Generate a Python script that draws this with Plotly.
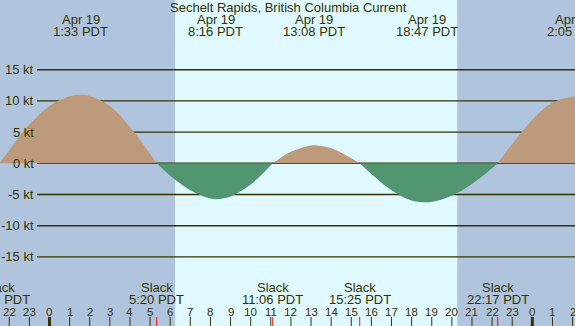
import plotly.graph_objects as go

# ---- data ----
title = "Sechelt Rapids, British Columbia Current"

# current speed samples (hours from Apr 19 00:00, knots)
curve_hours = [-2.5, -2.0, -1.0, 0.0, 1.0, 1.55, 2.0, 3.0, 4.0, 5.0, 5.33,
               6.0, 7.0, 8.0, 8.27, 9.0, 10.0, 11.0, 11.1,
               12.0, 13.0, 13.13, 14.0, 15.0, 15.42,
               16.0, 17.0, 18.0, 18.78, 19.0, 20.0, 21.0, 22.0, 22.28,
               23.0, 24.0, 25.0, 26.08, 26.5]
curve_knots = [0, 2.1, 6.2, 9.2, 10.75, 11.0, 10.8, 9.2, 5.8, 1.5, 0,
               -2.0, -4.3, -5.65, -5.75, -5.3, -3.4, -0.3, 0,
               1.85, 2.87, 2.88, 2.4, 0.82, 0,
               -1.7, -4.3, -5.95, -6.25, -6.2, -5.2, -3.3, -0.8, 0,
               3.1, 7.0, 9.7, 10.7, 10.65]

# max current events (top labels)
max_hours = [1.55, 8.27, 13.13, 18.78, 26.08]
max_dates = ["Apr 19", "Apr 19", "Apr 19", "Apr 19", "Apr 20"]
max_times = ["1:33 PDT", "8:16 PDT", "13:08 PDT", "18:47 PDT", "2:05 PDT"]

# slack events (bottom labels)
slack_hours = [-2.52, 5.33, 11.1, 15.42, 22.28]
slack_times = ["21:29 PDT", "5:20 PDT", "11:06 PDT", "15:25 PDT", "22:17 PDT"]

sunrise_hour = 6.24
sunset_hour = 20.27

grid_knots = [15, 10, 5, 0, -5, -10, -15]
grid_labels = ["15 kt", "10 kt", "5 kt", "0 kt", "-5 kt", "-10 kt", "-15 kt"]

hour_ticks = list(range(-2, 27))

# ---- styling ----
W, H = 575, 326
X0, X1 = -2.46, 26.12
Y0, Y1 = -26.07, 26.17
NIGHT = "#B0C4DE"
DAY = "#E0F8FF"
FLOOD = "#BC9A7B"
EBB = "#519571"
INK = "#333300"
FONT = "Liberation Sans, Arial, sans-serif"


def px(h):
    """hour -> paper x fraction (may lie outside 0..1)"""
    return (h - X0) / (X1 - X0)


def py(pix):
    return 1 - pix / H


fig = go.Figure()

# split curve into flood/ebb segments at slack (zero) points
segments = []
cur_x, cur_y = [], []
for h, v in zip(curve_hours, curve_knots):
    cur_x.append(h)
    cur_y.append(v)
    if v == 0 and len(cur_x) > 1:
        segments.append((cur_x, cur_y))
        cur_x, cur_y = [h], [v]
if len(cur_x) > 1:
    segments.append((cur_x, cur_y))

for xs, ys in segments:
    col = FLOOD if sum(ys) > 0 else EBB
    fig.add_trace(go.Scatter(
        x=xs, y=ys, mode="lines", line=dict(width=0, shape="spline", smoothing=1.0),
        fill="tozeroy", fillcolor=col, hoverinfo="skip", showlegend=False))

shapes = []
# night shading
shapes.append(dict(type="rect", xref="x", yref="paper", x0=X0 - 1, x1=sunrise_hour,
                   y0=0, y1=1, fillcolor=NIGHT, line=dict(width=0), layer="below"))
shapes.append(dict(type="rect", xref="x", yref="paper", x0=sunset_hour, x1=X1 + 1,
                   y0=0, y1=1, fillcolor=NIGHT, line=dict(width=0), layer="below"))
# grid lines
for g in grid_knots:
    shapes.append(dict(type="line", xref="paper", yref="y", x0=37 / W, x1=1,
                       y0=g, y1=g, line=dict(color=INK, width=1.4), layer="below"))
# hour ticks
tick_len = 9 / H
for h in hour_ticks:
    shapes.append(dict(type="line", xref="x", yref="paper", x0=h, x1=h, y0=0, y1=tick_len,
                       line=dict(color=INK, width=3 if h % 24 == 0 else 1), layer="above"))
# slack ticks
for h in slack_hours:
    shapes.append(dict(type="line", xref="x", yref="paper", x0=h, x1=h, y0=0, y1=tick_len,
                       line=dict(color="#FF0000", width=1), layer="above"))

ann = []
f13 = dict(family=FONT, size=13, color=INK)

ann.append(dict(text=title, xref="paper", yref="paper", x=0.5 * (170 + 406) / W, y=py(7.5),
                xanchor="center", yanchor="middle", showarrow=False, font=f13))
for h, d, t in zip(max_hours, max_dates, max_times):
    ann.append(dict(text=d, xref="paper", yref="paper", x=px(h), y=py(19.5), xanchor="center",
                    yanchor="middle", showarrow=False, font=f13))
    ann.append(dict(text=t, xref="paper", yref="paper", x=px(h), y=py(31.2), xanchor="center",
                    yanchor="middle", showarrow=False, font=f13))
for h, t in zip(slack_hours, slack_times):
    ann.append(dict(text="Slack", xref="paper", yref="paper", x=px(h), y=py(287.7), xanchor="center",
                    yanchor="middle", showarrow=False, font=f13))
    ann.append(dict(text=t, xref="paper", yref="paper", x=px(h), y=py(299.4), xanchor="center",
                    yanchor="middle", showarrow=False, font=f13))
for h in hour_ticks:
    ann.append(dict(text=str(h % 24), xref="paper", yref="paper", x=px(h), y=py(311.5),
                    xanchor="center", yanchor="middle", showarrow=False,
                    font=dict(family=FONT, size=11.5, color=INK)))
for g, lab in zip(grid_knots, grid_labels):
    ann.append(dict(text=lab, xref="paper", yref="y", x=35.5 / W, y=g, xanchor="right",
                    yanchor="middle", showarrow=False, font=f13))

fig.update_layout(
    width=W, height=H, margin=dict(l=0, r=0, t=0, b=0, pad=0),
    paper_bgcolor=DAY, plot_bgcolor=DAY,
    xaxis=dict(range=[X0, X1], visible=False, fixedrange=True),
    yaxis=dict(range=[Y0, Y1], visible=False, fixedrange=True),
    shapes=shapes, annotations=ann, showlegend=False,
)

fig.write_html("out.html", config={"displayModeBar": False},
               post_script="document.body.style.margin='0';document.body.style.overflow='hidden';")
